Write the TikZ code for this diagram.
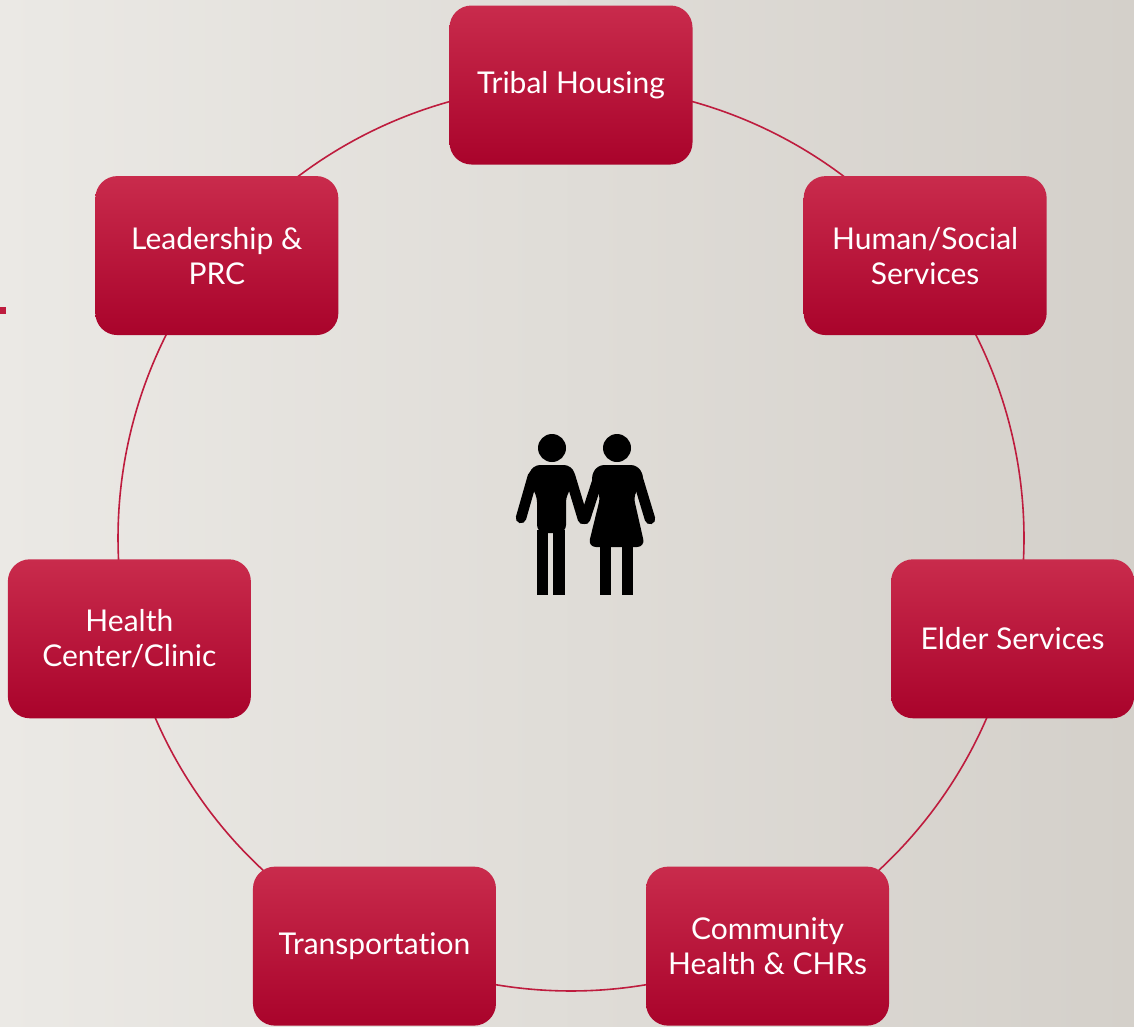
\documentclass[tikz,border=0pt]{standalone}
\usepackage{fontspec}
\setmainfont{Lato}[Ligatures=NoCommon]
\usetikzlibrary{backgrounds}
\definecolor{unittop}{RGB}{201,43,76}
\definecolor{unitbot}{RGB}{169,3,43}
\definecolor{ringred}{RGB}{190,28,62}
\definecolor{bgleft}{RGB}{235,233,229}
\definecolor{bgright}{RGB}{212,208,202}
\tikzset{
	unit/.style={rounded corners=22pt, top color=unittop, bottom color=unitbot, minimum width=243pt, minimum height=159pt, inner sep=0pt, text=white, align=center, font=\fontsize{30}{35}\selectfont},
	ring/.style={draw=ringred, line width=1.6pt},
	limb/.style={line width=10.5pt, line cap=round},
}
\begin{document}
\begin{tikzpicture}[x=1pt, y=-1pt]
	\useasboundingbox (0,0) rectangle (1134,1026);
	\coordinate (hub) at (571,538);
	
	% units round the ring, clockwise from the top
	\foreach \i/\txt in {0/{Tribal Housing}, 1/{Human/Social\\Services}, 2/{Elder Services}, 3/{Community\\Health \& CHRs}, 4/{Transportation}, 5/{Health\\Center/Clinic}, 6/{Leadership \&\\PRC}} {
		\node[unit] (u\i) at ([shift={({-90+\i*360/7}:453)}]hub) {\txt};
	}
	
	% couple in the middle
	\fill (552,448) circle (14);
	\fill (617,448) circle (14);
	\fill[rounded corners=8pt] (527,482) -- (532,465) -- (572,465) -- (577,482) -- (566,494) -- (566,533) -- (537,533) -- (537,494) -- cycle;
	\fill (537,530) rectangle (548,595);
	\fill (553,530) rectangle (565,595);
	\draw[limb] (533,476) -- (521,518);
	\draw[limb] (570,476) -- (583,519);
	\fill[rounded corners=8pt] (590,482) -- (596,465) -- (639,465) -- (645,482) -- (633,494) -- (645,547) -- (588,547) -- (601,494) -- cycle;
	\fill (600,545) rectangle (611,595);
	\fill (622,545) rectangle (633,595);
	\draw[limb] (599,476) -- (585,519);
	\draw[limb] (637,476) -- (650,519);
	
	\begin{pgfonlayer}{background}
		\shade[left color=bgleft, right color=bgright] (0,0) rectangle (1134,1026);
		\fill[ringred] (0,307) rectangle (6,314);
		% ring from one unit to the next
		\foreach \i in {0,...,6} {
			\draw[ring] (u\i.center) arc[start angle={-90+\i*360/7}, delta angle={360/7}, radius=453];
		}
	\end{pgfonlayer}
\end{tikzpicture}
\end{document}
